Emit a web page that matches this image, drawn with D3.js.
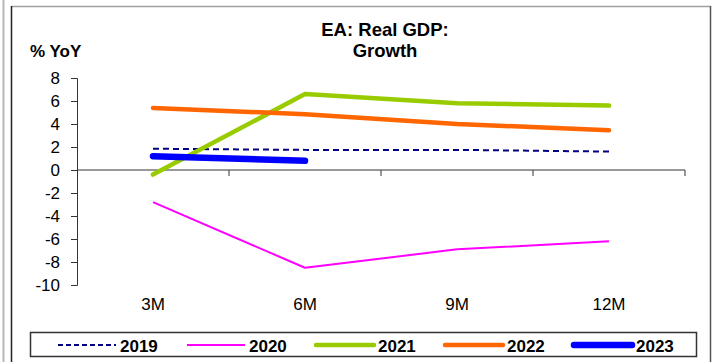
<!DOCTYPE html>
<html>
<head>
<meta charset="utf-8">
<script src="https://cdn.jsdelivr.net/npm/d3@7"></script>
<style>
  html, body { margin: 0; padding: 0; background: #fff; }
  svg { display: block; font-family: "Liberation Sans", Arial, sans-serif; }
</style>
</head>
<body>
<div class="chart"></div>
<script>
// chart data
const categories = ["3M", "6M", "9M", "12M"];
const years = ["2019", "2020", "2021", "2022", "2023"];
const v2019 = [1.85, 1.75, 1.75, 1.6];
const v2020 = [-2.8, -8.5, -6.9, -6.2];
const v2021 = [-0.4, 6.6, 5.8, 5.6];
const v2022 = [5.4, 4.85, 4.0, 3.45];
const v2023 = [1.2, 0.8];
const yTicks = [8, 6, 4, 2, 0, -2, -4, -6, -8, -10];

const series = [
  { name: "2019", values: v2019, color: "#000080", width: 2, dash: "6,4" },
  { name: "2020", values: v2020, color: "#FF00FF", width: 2, dash: null },
  { name: "2021", values: v2021, color: "#99CC00", width: 4.5, dash: null },
  { name: "2022", values: v2022, color: "#FF6600", width: 4.5, dash: null },
  { name: "2023", values: v2023, color: "#0000FF", width: 6.5, dash: null }
];

const W = 712, H = 362;
const svg = d3.select(".chart")
  .append("svg")
    .attr("width", W)
    .attr("height", H);

// outer frames
svg.append("line")
  .attr("x1", 3.5).attr("x2", 3.5).attr("y1", 0).attr("y2", H)
  .attr("stroke", "#b8b8b8").attr("stroke-width", 2);
svg.append("line")
  .attr("x1", 11).attr("x2", 711).attr("y1", 6.5).attr("y2", 6.5)
  .attr("stroke", "#a0a0a0").attr("stroke-width", 1.5);
svg.append("line")
  .attr("x1", 11.5).attr("x2", 11.5).attr("y1", 6).attr("y2", H)
  .attr("stroke", "#222").attr("stroke-width", 1.5);
svg.append("line")
  .attr("x1", 710.5).attr("x2", 710.5).attr("y1", 6).attr("y2", H)
  .attr("stroke", "#555").attr("stroke-width", 1.5);

const x = d3.scaleBand().domain(categories).range([77, 685]);
const y = d3.scaleLinear().domain([-10, 8]).range([285, 78]);

// y axis
const yAxis = svg.append("g")
  .attr("transform", "translate(77,0)")
  .call(d3.axisLeft(y).tickValues(yTicks).tickSize(6).tickPadding(11)
    .tickFormat(d => String(d)));
yAxis.select(".domain").attr("stroke", "#333");
yAxis.selectAll(".tick line").attr("stroke", "#333");
yAxis.selectAll("text")
  .attr("font-size", 17).attr("fill", "#000")
  .attr("font-family", "Liberation Sans, Arial, sans-serif");

// x axis line at zero with ticks between categories
const xAxis = svg.append("g").attr("transform", `translate(0,${y(0)})`);
xAxis.append("line")
  .attr("x1", 77).attr("x2", 685).attr("y1", 0).attr("y2", 0)
  .attr("stroke", "#333");
xAxis.selectAll(".xtick")
  .data(categories)
  .join("line")
    .attr("class", "xtick")
    .attr("x1", d => x(d) + x.bandwidth()).attr("x2", d => x(d) + x.bandwidth())
    .attr("y1", 0).attr("y2", 6)
    .attr("stroke", "#333");

svg.selectAll(".xlabel")
  .data(categories)
  .join("text")
    .attr("class", "xlabel")
    .attr("x", d => x(d) + x.bandwidth() / 2)
    .attr("y", 310)
    .attr("text-anchor", "middle")
    .attr("font-size", 17)
    .text(d => d);

// lines
const line = d3.line()
  .x((d, i) => x(categories[i]) + x.bandwidth() / 2)
  .y(d => y(d));

svg.selectAll(".series")
  .data(series)
  .join("path")
    .attr("class", "series")
    .attr("d", d => line(d.values))
    .attr("fill", "none")
    .attr("stroke", d => d.color)
    .attr("stroke-width", d => d.width)
    .attr("stroke-dasharray", d => d.dash)
    .attr("stroke-linecap", d => d.width > 3 ? "round" : "butt")
    .attr("stroke-linejoin", "round");

// titles
svg.append("text")
  .attr("x", 385).attr("y", 36)
  .attr("text-anchor", "middle")
  .attr("font-size", 18.5).attr("font-weight", "bold")
  .text("EA: Real GDP:");
svg.append("text")
  .attr("x", 385).attr("y", 57)
  .attr("text-anchor", "middle")
  .attr("font-size", 18.5).attr("font-weight", "bold")
  .text("Growth");
svg.append("text")
  .attr("x", 30).attr("y", 57)
  .attr("font-size", 17).attr("font-weight", "bold")
  .text("% YoY");

// legend
const legend = svg.append("g");
legend.append("rect")
  .attr("x", 30.5).attr("y", 332.5)
  .attr("width", 666).attr("height", 24)
  .attr("fill", "#fff")
  .attr("stroke", "#333").attr("stroke-width", 1.5);

const legX = d3.scalePoint().domain(years).range([58, 574]);
const items = legend.selectAll(".leg")
  .data(series)
  .join("g")
    .attr("class", "leg")
    .attr("transform", d => `translate(${legX(d.name)},345)`);
items.append("line")
  .attr("x1", 0).attr("x2", 58)
  .attr("stroke", d => d.color)
  .attr("stroke-width", d => d.width)
  .attr("stroke-dasharray", d => d.dash ? "5,3" : null)
  .attr("stroke-linecap", d => d.width > 3 ? "round" : "butt");
items.append("text")
  .attr("x", 62).attr("y", 6.5)
  .attr("font-size", 17).attr("font-weight", "bold")
  .text(d => d.name);
</script>
</body>
</html>
